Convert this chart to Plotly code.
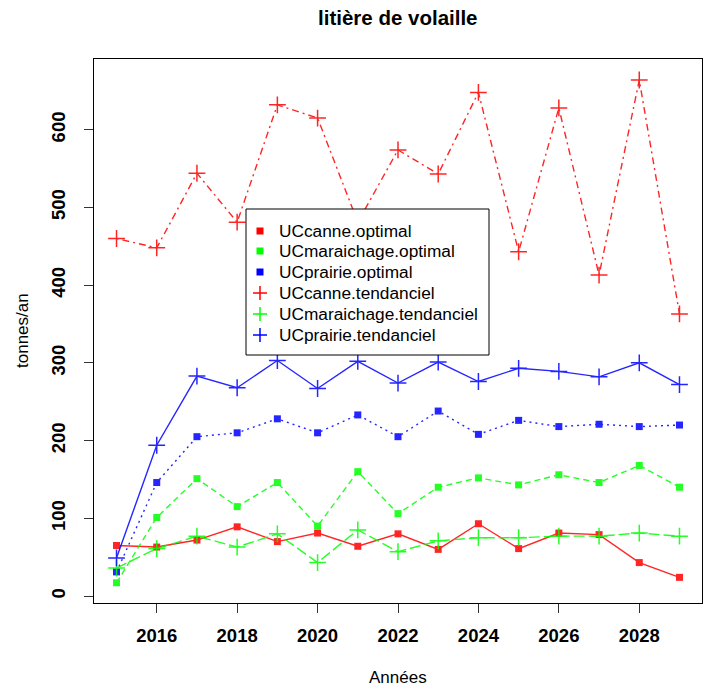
import plotly.graph_objects as go

years = list(range(2015, 2030))

canne_opt = [65, 63, 72, 89, 70, 81, 64, 80, 60, 93, 61, 81, 79, 43, 24]
maraichage_opt = [17, 101, 151, 115, 146, 90, 160, 106, 140, 152, 143, 156, 146, 168, 140]
prairie_opt = [31, 146, 205, 210, 228, 210, 233, 205, 238, 208, 226, 218, 221, 218, 220]
canne_tend = [460, 448, 544, 481, 632, 615, 481, 574, 543, 648, 443, 628, 413, 664, 363]
maraichage_tend = [36, 61, 77, 63, 80, 43, 85, 57, 71, 75, 75, 77, 77, 81, 77]
prairie_tend = [49, 194, 283, 268, 303, 267, 302, 274, 301, 276, 293, 289, 282, 300, 272]

series_names = ["UCcanne.optimal", "UCmaraichage.optimal", "UCprairie.optimal",
                "UCcanne.tendanciel", "UCmaraichage.tendanciel", "UCprairie.tendanciel"]
series_values = [canne_opt, maraichage_opt, prairie_opt,
                 canne_tend, maraichage_tend, prairie_tend]
colors = ["#FF0000", "#00FF00", "#0000FF", "#FF0000", "#00FF00", "#0000FF"]
dashes = ["solid", "6px,4px", "2px,4px", "2px,4px,7px,4px", "11px,4px", "solid"]
symbols = ["square", "square", "square", "cross", "cross", "cross"]

W, H = 704, 688
L, R, T, B = 94, 2, 59, 85
PW, PH = W - L - R, H - T - B


def px_x(p):
    return (p - L) / PW


def px_y(p):
    return (H - B - p) / PH


fig = go.Figure()
for name, vals, col, dash, sym in zip(series_names, series_values, colors, dashes, symbols):
    if sym == "square":
        marker = dict(symbol="square", size=7, color=col, line=dict(width=0))
    else:
        marker = dict(symbol="cross-thin", size=12, color=col, line=dict(width=1.5, color=col))
    fig.add_trace(go.Scatter(x=years, y=vals, mode="lines+markers", name=name,
                             line=dict(color=col, width=1.4, dash=dash),
                             marker=marker, showlegend=False, opacity=0.85))

font_family = "Liberation Sans, Arial, sans-serif"

shapes = []
annotations = []

# manual legend box
lx0, lx1, ly0, ly1 = 246, 489, 209, 355
shapes.append(dict(type="rect", xref="paper", yref="paper",
                   x0=px_x(lx0), x1=px_x(lx1), y0=px_y(ly1), y1=px_y(ly0),
                   line=dict(color="black", width=1), fillcolor="white", layer="above"))
row_y = [231, 251, 272, 293, 314, 335]
mx = 260
for name, col, sym, ry in zip(series_names, colors, symbols, row_y):
    if sym == "square":
        s = 3.5
        shapes.append(dict(type="rect", xref="paper", yref="paper",
                           x0=px_x(mx - s), x1=px_x(mx + s), y0=px_y(ry + s), y1=px_y(ry - s),
                           line=dict(width=0), fillcolor=col, layer="above"))
    else:
        s = 7
        shapes.append(dict(type="line", xref="paper", yref="paper",
                           x0=px_x(mx - s), x1=px_x(mx + s), y0=px_y(ry), y1=px_y(ry),
                           line=dict(color=col, width=1.5), layer="above"))
        shapes.append(dict(type="line", xref="paper", yref="paper",
                           x0=px_x(mx), x1=px_x(mx), y0=px_y(ry - s), y1=px_y(ry + s),
                           line=dict(color=col, width=1.5), layer="above"))
    annotations.append(dict(text=name, xref="paper", yref="paper", x=px_x(277), y=px_y(ry),
                            xanchor="left", yanchor="middle", showarrow=False,
                            font=dict(size=17.3, family=font_family, color="black")))

annotations += [
    dict(text="<b>litière de volaille</b>", xref="paper", yref="paper",
         x=px_x(398), y=px_y(18), xanchor="center", yanchor="middle", showarrow=False,
         font=dict(size=20.5, family=font_family)),
    dict(text="Années", xref="paper", yref="paper", x=0.5, y=px_y(677),
         xanchor="center", yanchor="middle", showarrow=False,
         font=dict(size=17, family=font_family)),
    dict(text="tonnes/an", xref="paper", yref="paper", x=px_x(22), y=0.5,
         xanchor="center", yanchor="middle", showarrow=False, textangle=-90,
         font=dict(size=17, family=font_family)),
]

fig.update_layout(
    width=W, height=H,
    margin=dict(l=L, r=R, t=T, b=B, autoexpand=False),
    plot_bgcolor="white", paper_bgcolor="white",
    font=dict(family=font_family, size=17, color="black"),
    showlegend=False,
    xaxis=dict(range=[2014.44, 2029.56], tickvals=list(range(2016, 2029, 2)),
               showgrid=False, zeroline=False, showline=True, mirror=True,
               linecolor="black", linewidth=1, ticks="outside", ticklen=9,
               tickcolor="#333", tickfont=dict(size=18.5, family=font_family, weight="bold"),
               ticklabelstandoff=7, automargin=False),
    yaxis=dict(range=[-9, 691], tickvals=[0, 100, 200, 300, 400, 500, 600],
               showgrid=False, zeroline=False, showline=True, mirror=True,
               linecolor="black", linewidth=1, ticks="outside", ticklen=9,
               tickcolor="#333", tickangle=-90,
               tickfont=dict(size=18.5, family=font_family, weight="bold"),
               ticklabelstandoff=12, automargin=False),
    shapes=shapes,
    annotations=annotations,
)

fig.write_html("out.html", config={"displayModeBar": False},
               post_script="document.body.style.margin='0';document.body.style.padding='0';")
